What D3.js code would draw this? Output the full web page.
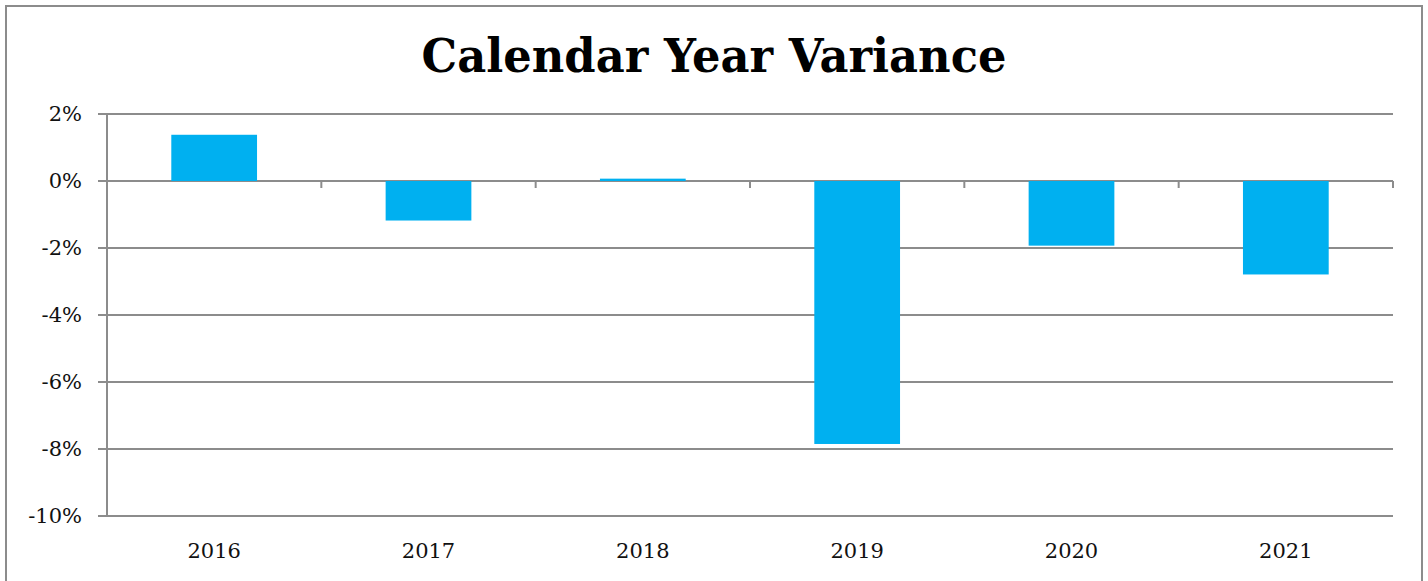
<!DOCTYPE html>
<html>
<head>
<meta charset="utf-8">
<script src="https://cdn.jsdelivr.net/npm/d3@7"></script>
<style>
  html, body { margin: 0; padding: 0; background: #fff; }
  svg { display: block; }
</style>
</head>
<body>
<script>
// chart values
var years = ["2016", "2017", "2018", "2019", "2020", "2021"]
var variance = [1.38, -1.18, 0.07, -7.85, -1.93, -2.79]   // percent
var yTicks = [2, 0, -2, -4, -6, -8, -10]
var title = "Calendar Year Variance"

var w = 1428, h = 581
var serif = "Georgia, 'DejaVu Serif', serif"
var gray = "#8c8c8c"

var svg = d3.select("body").append("svg")
    .attr("width", w).attr("height", h)

// outer frame
svg.append("rect")
    .attr("x", 6).attr("y", 6)
    .attr("width", 1416).attr("height", 600)
    .attr("fill", "none")
    .attr("stroke", gray).attr("stroke-width", 2)

svg.append("text")
    .attr("x", 714).attr("y", 72)
    .attr("text-anchor", "middle")
    .attr("font-family", serif)
    .attr("font-weight", "bold")
    .attr("font-size", 47)
    .attr("textLength", 585)
    .attr("lengthAdjust", "spacingAndGlyphs")
    .text(title)

var plotL = 107, plotR = 1393, plotT = 114, plotB = 516

var x = d3.scaleBand().domain(years).range([plotL, plotR]).paddingInner(0.6).paddingOuter(0.3)
var xb = d3.scaleBand().domain(years).range([plotL, plotR])   // category slots, for the ticks
var y = d3.scaleLinear().domain([-10, 2]).range([plotB, plotT])

// gridlines
svg.append("g").selectAll("line")
    .data(yTicks)
  .enter().append("line")
    .attr("x1", plotL - 9).attr("x2", plotR)
    .attr("y1", function(d) { return y(d) }).attr("y2", function(d) { return y(d) })
    .attr("stroke", gray).attr("stroke-width", 2)

// y labels
svg.append("g").selectAll("text")
    .data(yTicks)
  .enter().append("text")
    .attr("x", 82)
    .attr("y", function(d) { return y(d) })
    .attr("dy", "0.35em")
    .attr("text-anchor", "end")
    .attr("font-family", serif)
    .attr("font-size", 21)
    .attr("fill", "#111")
    .text(function(d) { return d + "%" })

// zero axis with category ticks
svg.append("line")
    .attr("x1", plotL).attr("x2", plotR)
    .attr("y1", y(0)).attr("y2", y(0))
    .attr("stroke", gray).attr("stroke-width", 2)
svg.append("g").selectAll("line")
    .data(years)
  .enter().append("line")
    .attr("x1", function(d) { return xb(d) + xb.bandwidth() })
    .attr("x2", function(d) { return xb(d) + xb.bandwidth() })
    .attr("y1", y(0)).attr("y2", y(0) + 7)
    .attr("stroke", gray).attr("stroke-width", 2)

// bars
svg.append("g").selectAll("rect")
    .data(variance)
  .enter().append("rect")
    .attr("x", function(d, i) { return x(years[i]) })
    .attr("width", x.bandwidth())
    .attr("y", function(d) { return y(Math.max(0, d)) })
    .attr("height", function(d) { return Math.abs(y(d) - y(0)) })
    .attr("fill", "#00b0f0")

// y axis line
svg.append("line")
    .attr("x1", plotL).attr("x2", plotL)
    .attr("y1", plotT).attr("y2", plotB)
    .attr("stroke", gray).attr("stroke-width", 2)

// x labels
svg.append("g").selectAll("text")
    .data(years)
  .enter().append("text")
    .attr("x", function(d) { return xb(d) + xb.bandwidth() / 2 })
    .attr("y", 558)
    .attr("text-anchor", "middle")
    .attr("font-family", serif)
    .attr("font-size", 21)
    .attr("fill", "#111")
    .text(function(d) { return d })
</script>
</body>
</html>
